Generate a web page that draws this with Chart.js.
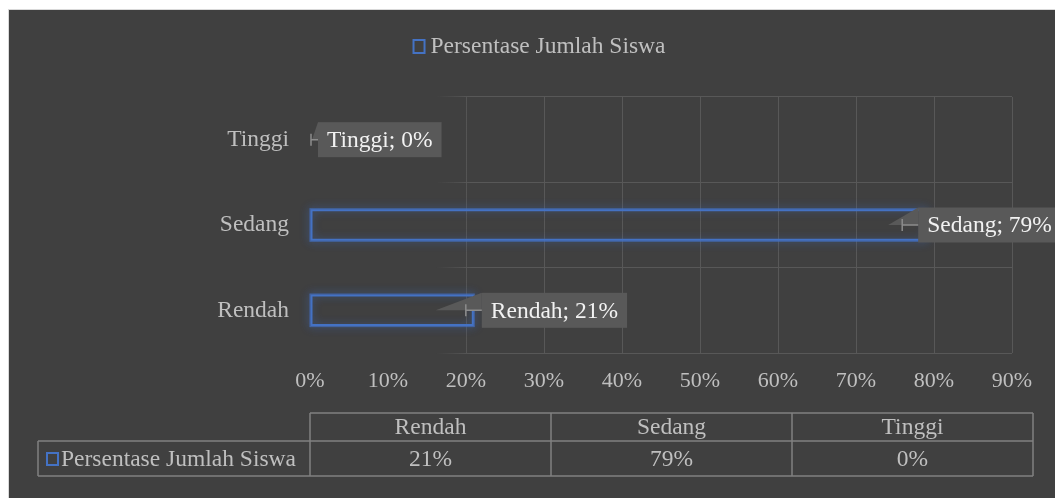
<!DOCTYPE html>
<html>
<head>
<meta charset="utf-8">
<script src="https://cdn.jsdelivr.net/npm/chart.js@4.4.1/dist/chart.umd.min.js"></script>
<style>
  html, body { margin:0; padding:0; background:#fff; overflow:hidden; }
  #panel { position:absolute; left:8px; top:9px; width:1046px; height:488px; border:1px solid #d9d9d9; background:#404040; }
</style>
</head>
<body>
<div id="panel"><canvas id="BarChart"></canvas></div>
<script>
var categories = ['Rendah', 'Sedang', 'Tinggi'];
var persentase = [21, 79, 0];
var seriesName = 'Persentase Jumlah Siswa';
var tickValues = [0, 10, 20, 30, 40, 50, 60, 70, 80, 90];

var serif = '"Liberation Serif", "Times New Roman", serif';
var blue = '#4472C4';
var textGray = '#bfbfbf';

function gridColor(c){
  var chart = c.chart;
  if (!chart.chartArea) return '#555555';
  var g = chart.ctx.createLinearGradient(chart.chartArea.left, 0, chart.chartArea.right, 0);
  g.addColorStop(0, 'rgba(88,88,88,0)');
  g.addColorStop(0.18, 'rgba(88,88,88,0)');
  g.addColorStop(0.23, 'rgba(88,88,88,1)');
  g.addColorStop(1, 'rgba(88,88,88,1)');
  return g;
}

// soft blue glow round each bar
var glowPlugin = {
  id: 'glow',
  beforeDatasetsDraw: function(chart){
    var ctx = chart.ctx;
    chart.getDatasetMeta(0).data.forEach(function(bar, i){
      if (!persentase[i]) return;
      var p = bar.getProps(['x', 'y', 'base', 'height'], true);
      ctx.save();
      ctx.shadowColor = 'rgba(68,114,196,1)';
      ctx.shadowBlur = 10;
      ctx.strokeStyle = 'rgba(68,114,196,0.45)';
      ctx.lineWidth = 2;
      for (var k = 0; k < 2; k++) {
        ctx.strokeRect(p.base, p.y - p.height / 2, p.x - p.base, p.height);
      }
      ctx.restore();
    });
  }
};

// "Kategori; nilai%" callout labels
var labelPlugin = {
  id: 'calloutLabels',
  afterDatasetsDraw: function(chart){
    var ctx = chart.ctx, area = chart.chartArea;
    ctx.save();
    ctx.font = '23.5px ' + serif;
    ctx.textBaseline = 'middle';
    chart.getDatasetMeta(0).data.forEach(function(bar, i){
      var p = bar.getProps(['x', 'y'], true);
      var text = categories[i] + '; ' + persentase[i] + '%';
      var w = ctx.measureText(text).width + 18, h = 35;
      var left = p.x + 8;
      if (left + w > chart.width) left = p.x - 8;
      var cy = p.y, top = cy - h / 2;
      var tipX = Math.max(area.left + 2, p.x - 38);
      ctx.fillStyle = '#595959';
      ctx.beginPath();
      ctx.moveTo(left, top);
      ctx.lineTo(tipX, cy);
      ctx.lineTo(left, cy);
      ctx.closePath();
      ctx.fill();
      ctx.fillRect(left, top, w, h);
      var lx = Math.max(area.left + 1, left - 16);
      ctx.strokeStyle = '#8c8c8c';
      ctx.lineWidth = 1.5;
      ctx.beginPath();
      ctx.moveTo(lx, cy); ctx.lineTo(left, cy);
      ctx.moveTo(lx, cy - 6); ctx.lineTo(lx, cy + 6);
      ctx.stroke();
      ctx.fillStyle = '#f2f2f2';
      ctx.fillText(text, left + 9, cy + 1);
    });
    ctx.restore();
  }
};

// legend on top + data table under the axis
var tablePlugin = {
  id: 'legendTable',
  afterDraw: function(chart){
    var ctx = chart.ctx, area = chart.chartArea;
    ctx.save();
    ctx.font = '23.5px ' + serif;
    ctx.textBaseline = 'middle';

    // legend
    var tw = ctx.measureText(seriesName).width;
    var lx = (chart.width - (12 + 6 + tw)) / 2 + 7;
    ctx.strokeStyle = blue;
    ctx.lineWidth = 2;
    ctx.strokeRect(lx + 1, 30, 11, 13);
    ctx.fillStyle = textGray;
    ctx.fillText(seriesName, lx + 18, 37);

    // table
    var left = area.left, right = area.right + 21;
    var colW = (right - left) / categories.length;
    var rTop = 403, rMid = 431, rBot = 466, keyLeft = 29;
    ctx.strokeStyle = '#808080';
    ctx.lineWidth = 1.5;
    ctx.beginPath();
    ctx.moveTo(left, rTop); ctx.lineTo(right, rTop);
    ctx.moveTo(keyLeft, rMid); ctx.lineTo(right, rMid);
    ctx.moveTo(keyLeft, rBot); ctx.lineTo(right, rBot);
    ctx.moveTo(keyLeft, rMid); ctx.lineTo(keyLeft, rBot);
    for (var c = 0; c <= categories.length; c++) {
      ctx.moveTo(left + c * colW, rTop); ctx.lineTo(left + c * colW, rBot);
    }
    ctx.stroke();

    ctx.fillStyle = textGray;
    ctx.textAlign = 'center';
    categories.forEach(function(cat, i){
      var cx = left + colW * (i + 0.5);
      ctx.fillText(cat, cx, (rTop + rMid) / 2 + 1);
      ctx.fillText(persentase[i] + '%', cx, (rMid + rBot) / 2 + 1);
    });
    ctx.textAlign = 'left';
    ctx.strokeStyle = blue;
    ctx.lineWidth = 2;
    ctx.strokeRect(keyLeft + 9, rMid + 12, 11, 12);
    ctx.fillText(seriesName, keyLeft + 23, (rMid + rBot) / 2 + 1);
    ctx.restore();
  }
};

window.onload = function(){
  var config = {
    type: 'bar',
    data: {
      labels: categories,
      datasets: [{
        label: seriesName,
        data: persentase,
        backgroundColor: 'rgba(0,0,0,0)',
        borderColor: blue,
        borderWidth: function(c){ return c.raw > 0 ? 2 : 0; },
        borderSkipped: false,
        barPercentage: 0.37,
        categoryPercentage: 1
      }]
    },
    options: {
      indexAxis: 'y',
      responsive: true,
      maintainAspectRatio: false,
      animation: false,
      layout: { padding: { top: 87, right: 43, bottom: 0, left: 0 } },
      plugins: { legend: { display: false }, tooltip: { enabled: false } },
      scales: {
        x: {
          min: tickValues[0],
          max: tickValues[tickValues.length - 1],
          afterFit: function(scale){ scale.height = 145; },
          ticks: {
            stepSize: tickValues[1] - tickValues[0],
            padding: 15,
            color: textGray,
            font: { family: serif, size: 22 },
            callback: function(v){ return v + '%'; }
          },
          grid: { color: gridColor, drawTicks: false, lineWidth: 1 },
          border: { display: false }
        },
        y: {
          reverse: true,
          afterFit: function(scale){ scale.width = 301; },
          ticks: { padding: 21, color: textGray, font: { family: serif, size: 23.5 } },
          grid: { color: gridColor, drawTicks: false, offset: true, lineWidth: 1 },
          border: { display: false }
        }
      }
    },
    plugins: [glowPlugin, labelPlugin, tablePlugin]
  };
  new Chart(document.getElementById('BarChart').getContext('2d'), config);
};
</script>
</body>
</html>
